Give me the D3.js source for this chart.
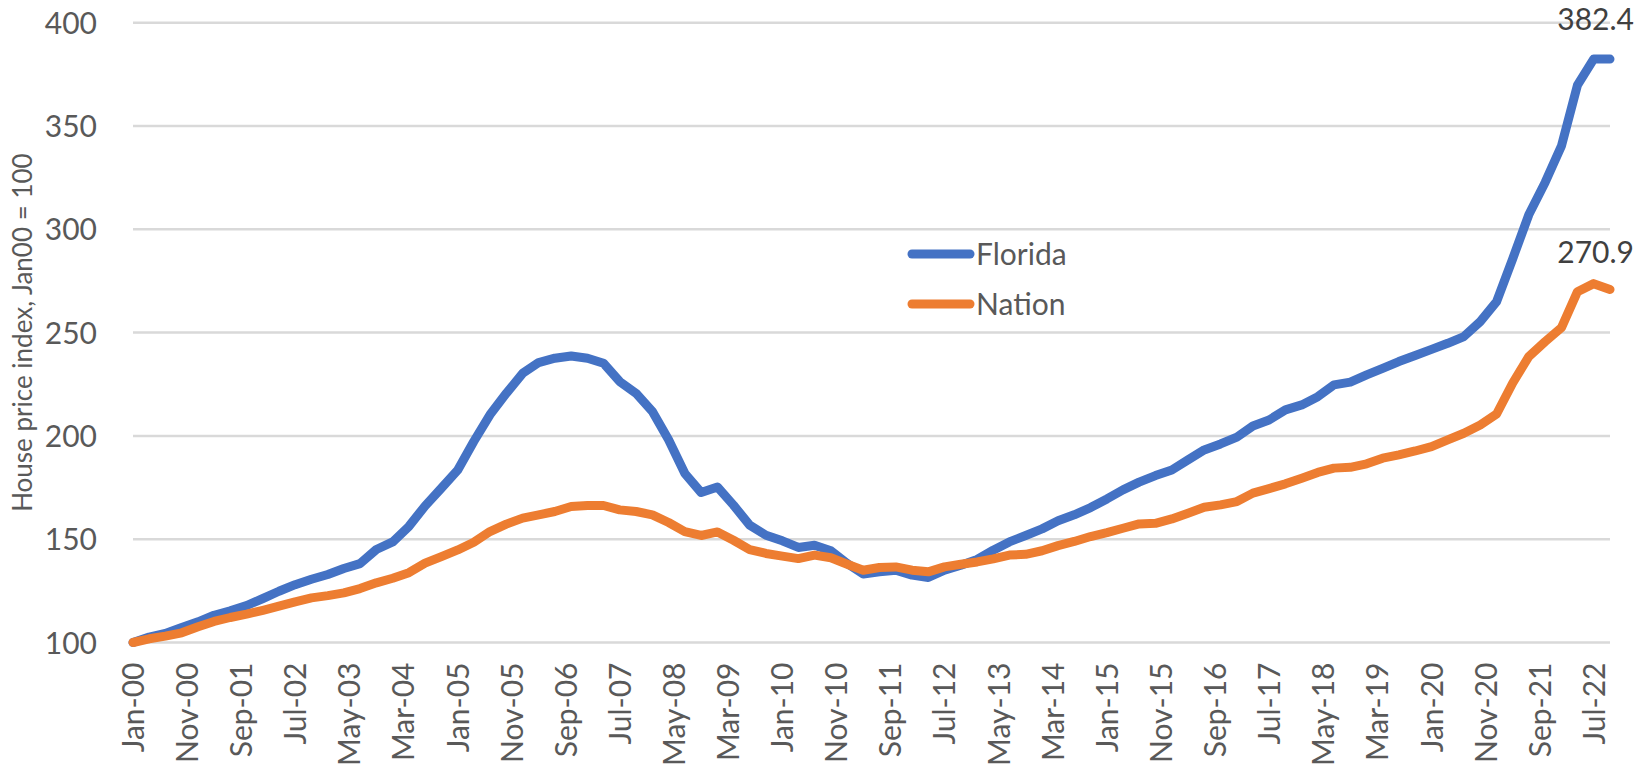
<!DOCTYPE html>
<html>
<head>
<meta charset="utf-8">
<script src="https://cdn.jsdelivr.net/npm/d3@7"></script>
<style>
  html, body { margin: 0; padding: 0; background: #ffffff; }
  svg { display: block; }
  text { font-family: Lato, "Open Sans", "Noto Sans", sans-serif; }
</style>
</head>
<body>
<svg id="chart" width="1648" height="776"></svg>
<script>
// ---------------- DATA (quarterly, starting Jan-00) ----------------
const startMonth = "2000-01";
const floridaValues = [
  100, 102.6, 104.4, 107.3, 110, 113.2, 115.3, 117.9, 121.3, 124.8,
  128, 130.6, 132.9, 135.8, 138.2, 145, 148.7, 156.2, 166.1, 174.7,
  183.5, 197.3, 210.2, 220.6, 230.3, 235.5, 237.6, 238.7, 237.6, 235.2,
  226.3, 220.6, 211.8, 198.1, 181.9, 172.6, 175.3, 166.5, 156.8, 151.9,
  149.2, 146, 147.1, 144.4, 138.2, 133.1, 134.2, 135, 132.6, 131.5,
  135, 137.4, 140.2, 144.7, 148.7, 151.8, 155, 158.9, 161.8, 165.3,
  169.5, 173.9, 177.6, 180.8, 183.5, 188.4, 193.2, 196.1, 199.4, 204.8,
  207.7, 212.6, 215, 219, 224.7, 226, 229.5, 232.7, 236, 238.9,
  241.9, 244.8, 248.1, 255.3, 265, 285.6, 307, 322.7, 340.4, 369.8,
  382.4, 382.4
];
const nationValues = [
  100, 101.8, 103.1, 104.7, 107.6, 110.2, 112.1, 113.7, 115.6, 117.6,
  119.7, 121.6, 122.7, 124, 126.1, 128.9, 131.1, 133.8, 138.4, 141.6,
  144.8, 148.5, 153.7, 157.3, 160.2, 161.8, 163.4, 165.8, 166.3, 166.3,
  164.2, 163.4, 161.8, 158.1, 153.7, 151.8, 153.5, 149.5, 145, 143.1,
  141.8, 140.6, 142.3, 141, 137.9, 135, 136.3, 136.6, 135, 134.2,
  136.6, 137.9, 139, 140.5, 142.3, 142.7, 144.4, 146.9, 148.9, 151.3,
  153.2, 155.3, 157.4, 157.7, 159.8, 162.6, 165.5, 166.6, 168.2, 172.3,
  174.5, 176.8, 179.5, 182.3, 184.4, 184.8, 186.5, 189.2, 190.8, 192.7,
  194.8, 198.1, 201.3, 205.3, 210.6, 225.5, 238.4, 245.6, 252.4, 269.8,
  273.7, 270.9
];
const seriesNames = ["Florida", "Nation"];
const seriesColors = ["#4472C4", "#ED7D31"];
const xTickLabels = [
  "Jan-00","Nov-00","Sep-01","Jul-02","May-03","Mar-04","Jan-05","Nov-05",
  "Sep-06","Jul-07","May-08","Mar-09","Jan-10","Nov-10","Sep-11","Jul-12",
  "May-13","Mar-14","Jan-15","Nov-15","Sep-16","Jul-17","May-18","Mar-19",
  "Jan-20","Nov-20","Sep-21","Jul-22"
];
const yTicks = [100, 150, 200, 250, 300, 350, 400];
const endLabels = ["382.4", "270.9"];
const yTitle = "House price index, Jan00 = 100";

// ---------------- LAYOUT ----------------
const svg = d3.select("#chart");
const plot = { left: 133, right: 1610, top: 22.7, bottom: 642.5 };

const start = d3.timeParse("%Y-%m")(startMonth);
const dates = floridaValues.map((_, i) => d3.timeMonth.offset(start, 3 * i));

const x = d3.scaleTime()
  .domain([dates[0], dates[dates.length - 1]])
  .range([plot.left, plot.right]);
const y = d3.scaleLinear().domain([100, 400]).range([plot.bottom, plot.top]);

// gridlines
svg.append("g").selectAll("line").data(yTicks).join("line")
  .attr("x1", plot.left).attr("x2", plot.right)
  .attr("y1", d => y(d)).attr("y2", d => y(d))
  .attr("stroke", "#d9d9d9").attr("stroke-width", 2.5);

// y axis labels
const yAxis = d3.axisLeft(y).tickValues(yTicks).tickSize(0).tickPadding(0);
const gy = svg.append("g").attr("transform", "translate(97,0)").call(yAxis);
gy.select(".domain").remove();
gy.selectAll("text")
  .attr("font-size", 30).attr("fill", "#595959")
  .attr("font-family", "Lato, 'Open Sans', sans-serif")
  .attr("dy", "0.35em");

// x axis labels
const parseTick = d3.timeParse("%b-%y");
const tickDates = xTickLabels.map(parseTick);
const xAxis = d3.axisBottom(x).tickValues(tickDates)
  .tickFormat(d3.timeFormat("%b-%y")).tickSize(0).tickPadding(0);
const gx = svg.append("g").attr("transform", `translate(0,${plot.bottom})`).call(xAxis);
gx.select(".domain").remove();
gx.selectAll("text")
  .attr("font-size", 30).attr("fill", "#595959")
  .attr("font-family", "Lato, 'Open Sans', sans-serif")
  .attr("text-anchor", "end")
  .attr("transform", "translate(0,20) rotate(-90)")
  .attr("x", 0).attr("y", 0)
  .attr("dy", "0.35em");

// y title
svg.append("text")
  .attr("transform", `translate(32,${(plot.top + plot.bottom) / 2}) rotate(-90)`)
  .attr("text-anchor", "middle")
  .attr("font-size", 26).attr("fill", "#595959")
  .text(yTitle);

// lines
const line = d3.line().x((d, i) => x(dates[i])).y(d => y(d));
[floridaValues, nationValues].forEach((vals, si) => {
  svg.append("path").datum(vals)
    .attr("d", line)
    .attr("fill", "none")
    .attr("stroke", seriesColors[si])
    .attr("stroke-width", 9)
    .attr("stroke-linejoin", "round")
    .attr("stroke-linecap", "round");
});

// end data labels
const lastIdx = floridaValues.length - 1;
const labelX = x(dates[lastIdx - 1]) + 2;
svg.append("text").attr("x", labelX).attr("y", y(floridaValues[lastIdx]) - 29)
  .attr("text-anchor", "middle").attr("font-size", 30).attr("fill", "#404040")
  .text(endLabels[0]);
svg.append("text").attr("x", labelX).attr("y", y(nationValues[lastIdx]) - 26)
  .attr("text-anchor", "middle").attr("font-size", 30).attr("fill", "#404040")
  .text(endLabels[1]);

// legend
const legend = svg.append("g");
seriesNames.forEach((name, i) => {
  const ly = 254 + i * 50;
  legend.append("line")
    .attr("x1", 912).attr("x2", 970).attr("y1", ly).attr("y2", ly)
    .attr("stroke", seriesColors[i]).attr("stroke-width", 9)
    .attr("stroke-linecap", "round");
  legend.append("text")
    .attr("x", 976).attr("y", ly).attr("dy", "0.35em")
    .attr("font-size", 30).attr("fill", "#595959")
    .text(name);
});
</script>
</body>
</html>
